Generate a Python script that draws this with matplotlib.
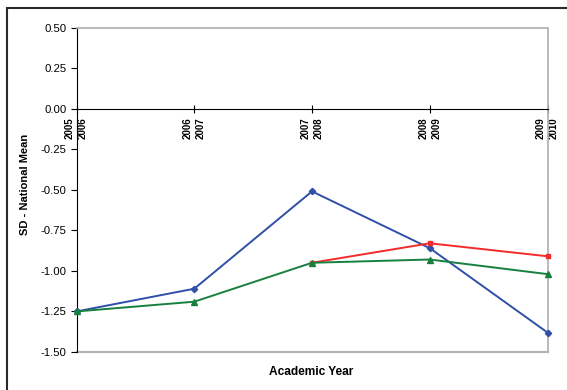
import matplotlib.pyplot as plt
from matplotlib.patches import Rectangle
import numpy as np

plt.rcParams['font.family'] = ['Liberation Sans', 'DejaVu Sans']

# academic years on the x axis
years = ['2005\n2006', '2006\n2007', '2007\n2008', '2008\n2009', '2009\n2010']

# difference from national mean, in SD units
blue_vals = [-1.25, -1.11, -0.51, -0.86, -1.38]
red_years = [2, 3, 4]
red_vals = [-0.95, -0.83, -0.91]
green_vals = [-1.25, -1.19, -0.95, -0.93, -1.02]

W, H = 567, 390
fig = plt.figure(figsize=(W / 100, H / 100), dpi=100)
ax = fig.add_axes([76.5 / W, (H - 352) / H, 471 / W, 324.5 / H])

x = np.arange(len(years))
ax.plot(x, blue_vals, color='#2f4fa8', lw=1.4, marker='D', ms=3.2, zorder=3,
        clip_on=False)
ax.plot(red_years, red_vals, color='#f52a2a', lw=1.4, marker='s', ms=3.5, zorder=3,
        clip_on=False)
ax.plot(x, green_vals, color='#18803e', lw=1.4, marker='^', ms=4.5, zorder=4,
        clip_on=False)

ax.set_xlim(0, len(years) - 1)
ax.set_ylim(-1.5, 0.5)
yt = np.arange(-1.5, 0.51, 0.25)
ax.set_yticks(yt)
ax.set_yticklabels([f'{v:.2f}' for v in yt], fontsize=8.2)

# category axis sits on the zero line
ax.spines['bottom'].set_position(('data', 0))
ax.spines['bottom'].set_color('black')
ax.spines['left'].set_color('black')
for s in ('top', 'right'):
    ax.spines[s].set_color('#b4b4b4')
    ax.spines[s].set_linewidth(1.3)
ax.axhline(-1.5, color='#b4b4b4', lw=1.6, clip_on=False, zorder=1)

ax.set_xticks(x)
ax.set_xticklabels(years, rotation=90, fontsize=7, fontweight='bold',
                   linespacing=1.35, va='top', ha='center')
ax.tick_params(axis='x', direction='inout', length=6, pad=3)
ax.tick_params(axis='y', direction='out', length=4, pad=3)

fig.text(25 / W, 1 - 184.5 / H, 'SD - National Mean', rotation=90,
         ha='center', va='center', fontsize=8, fontweight='bold')
fig.text(311 / W, 1 - 372 / H, 'Academic Year',
         ha='center', va='center', fontsize=8.6, fontweight='bold')

# outer chart frame
fig.patches.append(Rectangle((6.7 / W, -0.1), 1.2, 1 - 7.5 / H + 0.1,
                             transform=fig.transFigure, fill=False,
                             edgecolor='#2a2a2a', lw=1.5))

fig.savefig('out.png', dpi=100)
